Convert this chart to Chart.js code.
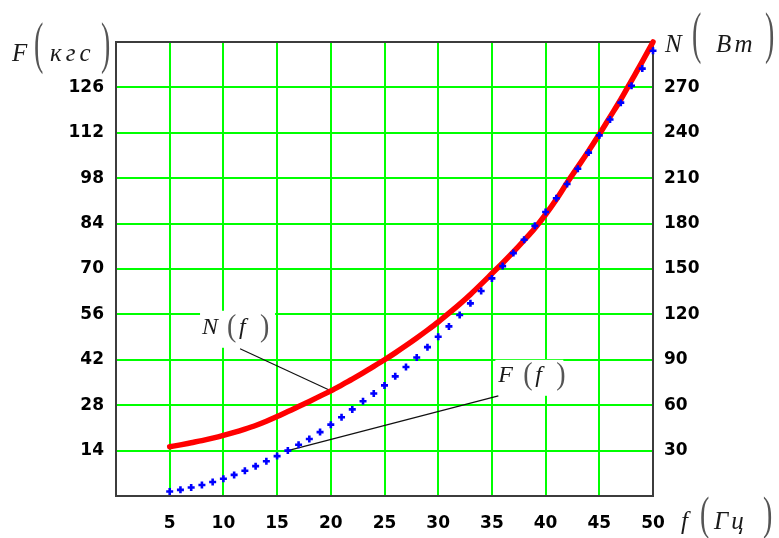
<!DOCTYPE html>
<html>
<head>
<meta charset="utf-8">
<script src="https://cdn.jsdelivr.net/npm/chart.js@4"></script>
<style>
  html, body { margin: 0; padding: 0; background: #fff; }
  #wrap { width: 779px; height: 538px; position: relative; }
</style>
</head>
<body>
<div id="wrap"><canvas id="c"></canvas></div>
<script>
// Frequency, Гц
const freq = [5, 6, 7, 8, 9, 10, 11, 12, 13, 14, 15, 16, 17, 18, 19, 20, 21, 22, 23, 24,
              25, 26, 27, 28, 29, 30, 31, 32, 33, 34, 35, 36, 37, 38, 39, 40, 41, 42, 43, 44,
              45, 46, 47, 48, 49, 50];
// Force F(f), кгс
const forceF = [1.4, 1.9, 2.6, 3.4, 4.3, 5.3, 6.5, 7.8, 9.2, 10.7, 12.3, 14.0, 15.8, 17.6, 19.7, 22.0,
                24.3, 26.7, 29.2, 31.6, 34.1, 36.9, 39.8, 42.7, 45.9, 49.1, 52.3, 55.8, 59.4, 63.2,
                67.1, 70.9, 74.9, 79.0, 83.3, 87.6, 91.8, 96.2, 100.9, 105.9, 111.2, 116.1, 121.3,
                126.5, 131.8, 137.3];
// Power N(f), Вт
const powerN = [32.5, 33.8, 35.2, 36.6, 38.2, 40, 42, 44.2, 46.6, 49.4, 52.5, 55.8, 59.1, 62.5, 66,
                69.5, 73.3, 77.2, 81.3, 85.6, 90, 94.6, 99.4, 104.4, 109.6, 115, 120.8, 126.8, 133.2,
                140, 147, 154, 161.3, 169, 177, 186, 196, 207, 217.5, 228, 239, 250.5, 262,
                274.5, 287, 300];

// Tick labels
const freqTicks  = [5, 10, 15, 20, 25, 30, 35, 40, 45, 50];
const forceTicks = [14, 28, 42, 56, 70, 84, 98, 112, 126];
const powerTicks = [30, 60, 90, 120, 150, 180, 210, 240, 270];

const SERIF = '"Liberation Serif", "Times New Roman", serif';
const tickFont = { family: '"DejaVu Sans", sans-serif', weight: 'bold', size: 17 };

// Draw a text run; optional vertical stretch for tall brackets and extra letter spacing
function run(ctx, txt, x, baseline, font, color, sy, spacing) {
  ctx.save();
  ctx.font = font;
  ctx.fillStyle = color;
  ctx.textAlign = 'left';
  ctx.textBaseline = 'alphabetic';
  if (spacing) ctx.letterSpacing = spacing + 'px';
  ctx.translate(x, baseline);
  if (sy) ctx.scale(1, sy);
  ctx.fillText(txt, 0, 0);
  ctx.restore();
}

// Math-style "Name(unit)" label
function mathLabel(ctx, p) {
  const ink = '#1a1a1a';
  const paren = '#555';
  run(ctx, p.name, p.nameX, p.base, 'italic ' + p.size + 'px ' + SERIF, ink);
  run(ctx, '(', p.lpX, p.parenBase, '28px ' + SERIF, paren, p.sy);
  run(ctx, p.arg, p.argX, p.base, 'italic ' + p.size + 'px ' + SERIF, ink, 0, p.spacing || 0);
  run(ctx, ')', p.rpX, p.parenBase, '28px ' + SERIF, paren, p.sy);
}

const decor = {
  id: 'decor',
  beforeDatasetsDraw(chart) {
    const { ctx, chartArea: a, scales } = chart;
    const x = scales.x, yF = scales.yF, yN = scales.yN;

    // frame around the plot
    ctx.save();
    ctx.strokeStyle = '#3c3c3c';
    ctx.lineWidth = 2;
    ctx.strokeRect(a.left, a.top, a.right - a.left, a.bottom - a.top);
    ctx.restore();

    // curve callouts
    const iN = freq.indexOf(20), iF = freq.indexOf(16);
    const callouts = [
      { from: [x.getPixelForValue(11.55), yF.getPixelForValue(45.4)],
        to:   [x.getPixelForValue(freq[iN]), yN.getPixelForValue(powerN[iN])],
        box: [-40, -38, 75, 37], name: 'N', dx: -38, dy: -15 },
      { from: [x.getPixelForValue(35.6), yF.getPixelForValue(30.9)],
        to:   [x.getPixelForValue(freq[iF]), yF.getPixelForValue(forceF[iF])],
        box: [-3, -36, 68, 36], name: 'F', dx: 0, dy: -14 }
    ];
    callouts.forEach(c => {
      const [sx, sy] = c.from;
      ctx.save();
      ctx.fillStyle = '#fff';
      ctx.fillRect(sx + c.box[0], sy + c.box[1], c.box[2], c.box[3]);
      ctx.strokeStyle = '#111';
      ctx.lineWidth = 1.2;
      ctx.beginPath();
      ctx.moveTo(sx, sy);
      ctx.lineTo(c.to[0], c.to[1]);
      ctx.stroke();
      ctx.restore();
      const lx = sx + c.dx, ly = sy + c.dy;
      mathLabel(ctx, {
        name: c.name, arg: 'f', size: 24, base: ly,
        nameX: lx, lpX: lx + 25, argX: lx + 37, rpX: lx + 58,
        parenBase: ly + 2, sy: 1.15
      });
    });
  },
  afterDraw(chart) {
    const { ctx } = chart;
    // axis titles
    mathLabel(ctx, { name: 'F', arg: 'кгс', size: 25, base: 61,
      nameX: 12, lpX: 34, argX: 50, rpX: 101, parenBase: 61.6, sy: 2, spacing: 4 });
    mathLabel(ctx, { name: 'N', arg: 'Вт', size: 25, base: 52,
      nameX: 665, lpX: 692, argX: 716, rpX: 765, parenBase: 51.6, sy: 2, spacing: 3 });
    mathLabel(ctx, { name: 'f', arg: 'Гц', size: 25, base: 529,
      nameX: 681, lpX: 700, argX: 714, rpX: 763, parenBase: 529, sy: 1.65, spacing: 3 });
  }
};

const setTicks = list => scale => { scale.ticks = list.map(v => ({ value: v })); };

new Chart(document.getElementById('c'), {
  type: 'line',
  data: {
    datasets: [
      {
        label: 'F(f)',
        data: freq.map((f, i) => ({ x: f, y: forceF[i] })),
        yAxisID: 'yF',
        showLine: false,
        pointStyle: 'cross',
        pointRadius: 3.5,
        pointBorderWidth: 2.6,
        pointBorderColor: '#0000ff',
        pointBackgroundColor: '#0000ff',
        borderColor: '#0000ff',
        clip: false
      },
      {
        label: 'N(f)',
        data: freq.map((f, i) => ({ x: f, y: powerN[i] })),
        yAxisID: 'yN',
        borderColor: '#ff0000',
        borderWidth: 5.5,
        pointRadius: 0,
        cubicInterpolationMode: 'monotone',
        borderCapStyle: 'round',
        clip: false
      }
    ]
  },
  options: {
    responsive: true,
    maintainAspectRatio: false,
    animation: false,
    devicePixelRatio: 1,
    layout: { padding: { top: 42, left: 0, right: 0, bottom: 0 } },
    plugins: { legend: { display: false }, tooltip: { enabled: false } },
    scales: {
      x: {
        type: 'linear', min: 0, max: 50,
        afterBuildTicks: setTicks(freqTicks),
        afterFit: s => { s.height = 42; },
        grid: { color: '#00ff00', lineWidth: 2, drawTicks: false },
        border: { display: false },
        ticks: { padding: 17, color: '#000', font: tickFont, maxRotation: 0, autoSkip: false }
      },
      yF: {
        type: 'linear', position: 'left', min: 0, max: 140,
        afterBuildTicks: setTicks(forceTicks),
        afterFit: s => { s.width = 116; },
        grid: { color: '#00ff00', lineWidth: 2, drawTicks: false },
        border: { display: false },
        ticks: { padding: 12, color: '#000', font: tickFont, autoSkip: false }
      },
      yN: {
        type: 'linear', position: 'right', min: 0, max: 300,
        afterBuildTicks: setTicks(powerTicks),
        afterFit: s => { s.width = 126; },
        grid: { display: false, drawTicks: false },
        border: { display: false },
        ticks: { padding: 11, color: '#000', font: tickFont, autoSkip: false }
      }
    }
  },
  plugins: [decor]
});
</script>
</body>
</html>
